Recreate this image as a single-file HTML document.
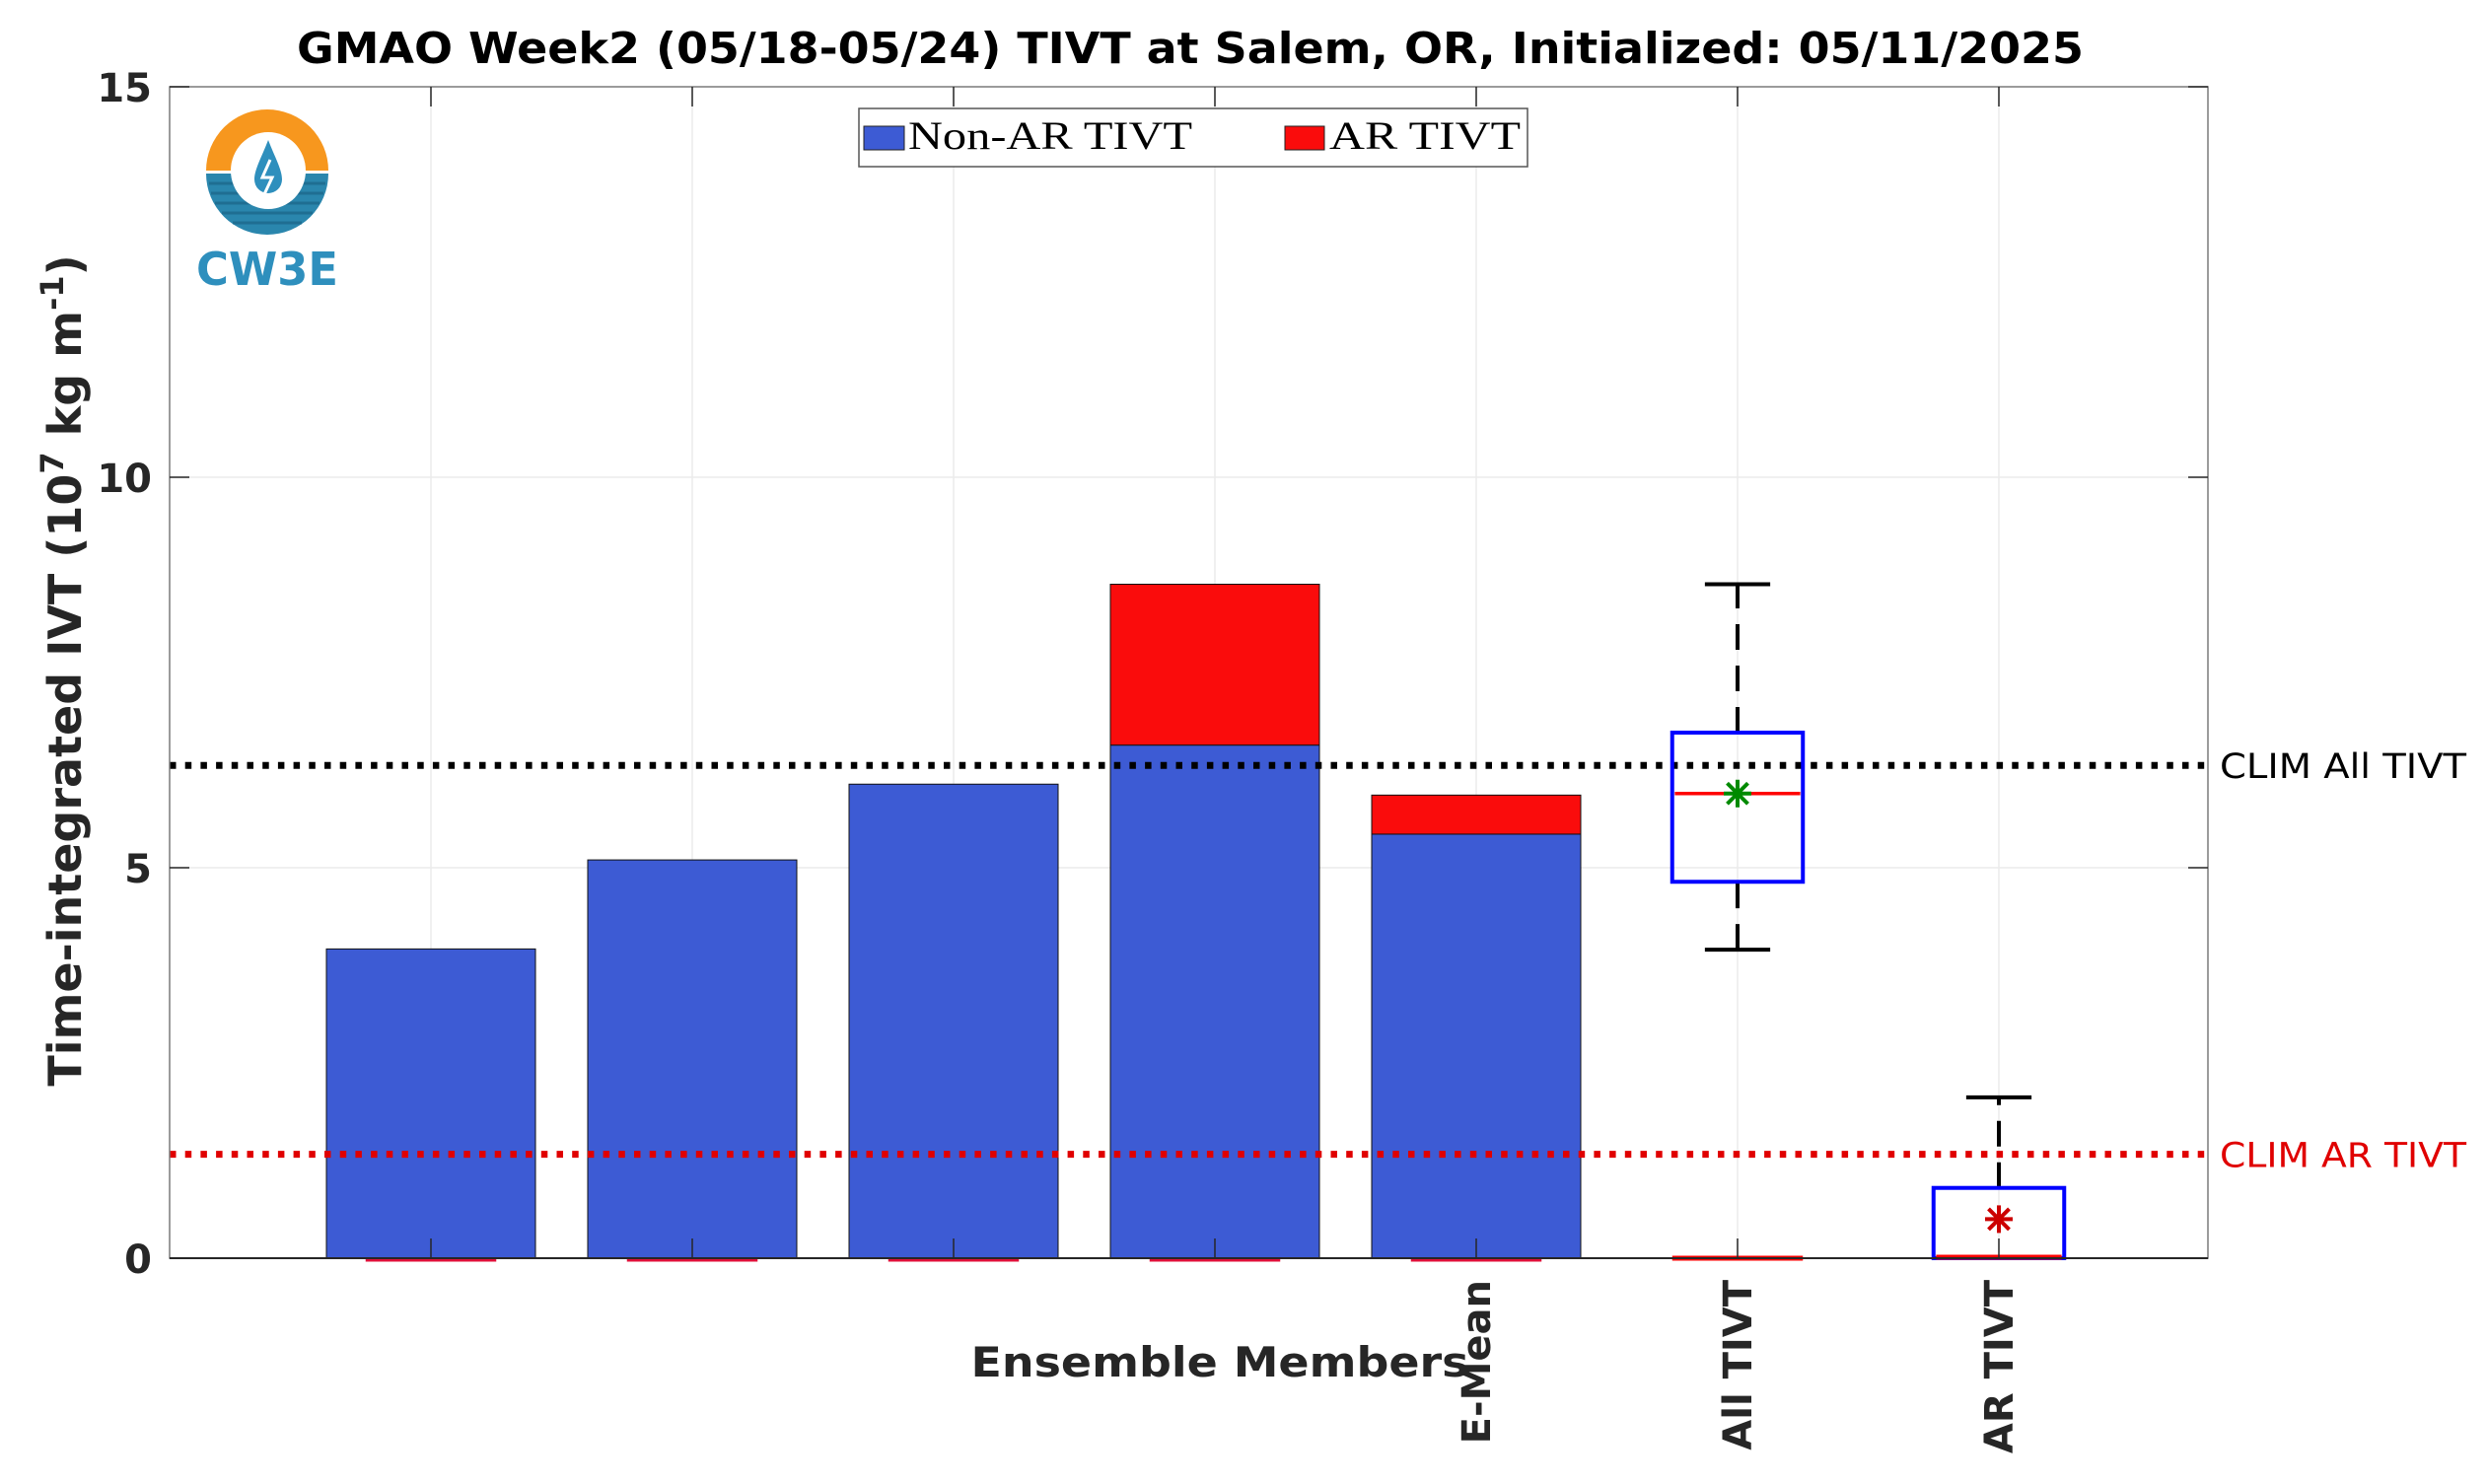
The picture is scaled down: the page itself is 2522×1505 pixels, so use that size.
<!DOCTYPE html>
<html><head><meta charset="utf-8"><style>
html,body{margin:0;padding:0;background:#fff;}
svg{display:block;}
</style></head><body>
<svg id="chart" width="2522" height="1505" viewBox="0 0 2522 1505" xmlns="http://www.w3.org/2000/svg">
<rect x="0" y="0" width="2522" height="1505" fill="#fff"/>
<text x="1207" y="64" text-anchor="middle" font-family="DejaVu Sans, Liberation Sans, sans-serif" font-weight="bold" font-size="44" textLength="1812" lengthAdjust="spacingAndGlyphs" fill="#000">GMAO Week2 (05/18-05/24) TIVT at Salem, OR, Initialized: 05/11/2025</text>
<g id="grid"></g>
<g id="marks"></g>
<g id="axes"></g>
<g>
  <path d="M209,173 A62,62 0 0 1 333,173 Z" fill="#f7971e"/>
  <path d="M209,176 A62,62 0 0 0 333,176 Z" fill="#2a86ad"/>
  <g stroke="#1f6e92" stroke-width="3">
    <line x1="212" y1="186" x2="330" y2="186"/><line x1="214" y1="196" x2="328" y2="196"/>
    <line x1="218" y1="206" x2="324" y2="206"/><line x1="225" y1="216" x2="317" y2="216"/>
    <line x1="236" y1="226" x2="306" y2="226"/>
  </g>
  <ellipse cx="272" cy="173" rx="38" ry="39" fill="#fff"/>
  <path d="M272,142 C265,160 258,172 258,182 A14,14 0 0 0 286,182 C286,172 279,160 272,142 Z" fill="#2e8fbd"/>
  <path d="M274,162 L266,180 L276,180 L268,197" fill="none" stroke="#fff" stroke-width="3"/>
  <text x="271" y="289" text-anchor="middle" font-family="DejaVu Sans, Liberation Sans, sans-serif" font-weight="bold" font-size="46" textLength="144" lengthAdjust="spacingAndGlyphs" fill="#2e8fbd">CW3E</text>
</g>
<g>
  <rect x="871" y="110" width="678" height="59" fill="#fff" stroke="#555" stroke-width="1.5"/>
  <rect x="876" y="128" width="41" height="24" fill="#3d5bd4" stroke="#222" stroke-width="1"/>
  <text x="921" y="151" font-family="Liberation Serif, serif" font-size="40" textLength="288" lengthAdjust="spacingAndGlyphs" fill="#000">Non-AR TIVT</text>
  <rect x="1303" y="128" width="40" height="24" fill="#fa0c0c" stroke="#222" stroke-width="1"/>
  <text x="1348" y="151" font-family="Liberation Serif, serif" font-size="40" textLength="194" lengthAdjust="spacingAndGlyphs" fill="#000">AR TIVT</text>
</g>
<text transform="translate(82,680) rotate(-90)" text-anchor="middle" font-family="DejaVu Sans, Liberation Sans, sans-serif" font-weight="bold" font-size="46" fill="#262626">Time-integrated IVT (10<tspan font-size="32" dy="-18">7</tspan><tspan dy="18"> kg m</tspan><tspan font-size="32" dy="-18">-1</tspan><tspan dy="18">)</tspan></text>
<text x="1237" y="1396" text-anchor="middle" font-family="DejaVu Sans, Liberation Sans, sans-serif" font-weight="bold" font-size="42" textLength="505" lengthAdjust="spacingAndGlyphs" fill="#262626">Ensemble Members</text>
</svg>
<script>
const categories = ['', '', '', '', 'E-Mean', 'All TIVT', 'AR TIVT'];
const nonArValues = [3.96, 5.10, 6.07, 6.57, 5.43];
const arValues = [0, 0, 0, 2.06, 0.50];
const boxAll = [3.95, 4.82, 5.95, 6.73, 8.63];
const boxAllMean = [5.95];
const boxAr = [0, 0, 0, 0.90, 2.06];
const boxArMean = [0.50];
const climAll = [6.31];
const climAr = [1.33];
const yTicks = [0, 5, 10, 15];
const yTickLabels = ['0', '5', '10', '15'];

const NS = 'http://www.w3.org/2000/svg';
const L = 172, R = 2239, T = 88, B = 1276;
const xMax = 7.8, yMax = 15;
function xs(v){ return L + v / xMax * (R - L); }
function ys(v){ return B - v / yMax * (B - T); }
function mk(parent, tag, attrs){ const e = document.createElementNS(NS, tag); for (const k in attrs) e.setAttribute(k, attrs[k]); parent.appendChild(e); return e; }
const grid = document.getElementById('grid');
const marks = document.getElementById('marks');
const axes = document.getElementById('axes');

categories.forEach((c, i) => {
  const g = mk(grid, 'line', {x1: xs(i+1), x2: xs(i+1), y1: T, y2: B, stroke: '#ebebeb', 'stroke-width': 1.5});
  
  
});
yTicks.forEach(v => {
  if (v === 0 || v === yMax) return;
  const g = mk(grid, 'line', {x1: L, x2: R, y1: ys(v), y2: ys(v), stroke: '#ebebeb', 'stroke-width': 1.5});
  
  
});

const bw = 0.8;
nonArValues.forEach((v, i) => {
  const x0 = xs(i + 1 - bw/2), x1 = xs(i + 1 + bw/2);
  const b = mk(marks, 'rect', {x: x0, y: ys(v), width: x1 - x0, height: ys(0) - ys(v), fill: '#3d5bd4', stroke: '#111', 'stroke-width': 1});
  
  
  const a = arValues[i];
  if (a > 0) {
    const r = mk(marks, 'rect', {x: x0, y: ys(v + a), width: x1 - x0, height: ys(v) - ys(v + a), fill: '#fa0c0c', stroke: '#111', 'stroke-width': 1});
    
    
  }
  const z = mk(marks, 'line', {x1: xs(i+1-0.25), x2: xs(i+1+0.25), y1: ys(0)+2, y2: ys(0)+2, stroke: '#e0103a', 'stroke-width': 3});
  
  
});

const c1 = mk(marks, 'line', {x1: L, x2: R, y1: ys(climAll[0]), y2: ys(climAll[0]), stroke: '#000', 'stroke-width': 7, 'stroke-dasharray': '6.5 9.2'});


const c2 = mk(marks, 'line', {x1: L, x2: R, y1: ys(climAr[0]), y2: ys(climAr[0]), stroke: '#e00000', 'stroke-width': 7, 'stroke-dasharray': '6.5 9.2'});


const t1 = mk(marks, 'text', {x: 2251, y: ys(climAll[0]) + 13, 'font-family': 'DejaVu Sans, Liberation Sans, sans-serif', 'font-size': 35, fill: '#000', textLength: 250, lengthAdjust: 'spacingAndGlyphs'});
t1.textContent = 'CLIM All TIVT';


const t2 = mk(marks, 'text', {x: 2251, y: ys(climAr[0]) + 13, 'font-family': 'DejaVu Sans, Liberation Sans, sans-serif', 'font-size': 35, fill: '#e00000', textLength: 250, lengthAdjust: 'spacingAndGlyphs'});
t2.textContent = 'CLIM AR TIVT';



function star(cx, cy, color, name){
  const g = mk(marks, 'g', {stroke: color, 'stroke-width': 4});
  
  
  const s = 14;
  mk(g, 'line', {x1: cx, x2: cx, y1: cy - s, y2: cy + s});
  mk(g, 'line', {x1: cx - s, x2: cx + s, y1: cy, y2: cy});
  mk(g, 'line', {x1: cx - s*0.75, x2: cx + s*0.75, y1: cy - s*0.75, y2: cy + s*0.75});
  mk(g, 'line', {x1: cx - s*0.75, x2: cx + s*0.75, y1: cy + s*0.75, y2: cy - s*0.75});
}
function boxplot(pos, q, mean, starColor, name){
  const g = mk(marks, 'g', {});
  
  
  const cx = xs(pos);
  if (q[3] < q[4]) mk(g, 'line', {x1: cx, x2: cx, y1: ys(q[3]), y2: ys(q[4]), stroke: '#000', 'stroke-width': 4, 'stroke-dasharray': '26 16'});
  if (q[0] < q[1]) mk(g, 'line', {x1: cx, x2: cx, y1: ys(q[0]), y2: ys(q[1]), stroke: '#000', 'stroke-width': 4, 'stroke-dasharray': '26 16'});
  mk(g, 'line', {x1: xs(pos-0.125), x2: xs(pos+0.125), y1: ys(q[4]), y2: ys(q[4]), stroke: '#000', 'stroke-width': 4});
  mk(g, 'line', {x1: xs(pos-0.125), x2: xs(pos+0.125), y1: ys(q[0]), y2: ys(q[0]), stroke: '#000', 'stroke-width': 4});
  mk(g, 'rect', {x: xs(pos-0.25), y: ys(q[3]), width: xs(pos+0.25)-xs(pos-0.25), height: Math.max(ys(q[1]) - ys(q[3]), 1), fill: 'none', stroke: '#0000ff', 'stroke-width': 4});
  mk(g, 'line', {x1: xs(pos-0.24), x2: xs(pos+0.24), y1: ys(q[2]) - (q[2] === 0 ? 1 : 0), y2: ys(q[2]) - (q[2] === 0 ? 1 : 0), stroke: '#ff0000', 'stroke-width': q[2] === 0 ? 5 : 3.5});
  star(cx, ys(mean), starColor, name + '-mean');
}
boxplot(6, boxAll, boxAllMean[0], '#008a00', 'boxplot-all-tivt');
boxplot(7, boxAr, boxArMean[0], '#cc0000', 'boxplot-ar-tivt');
const zr = mk(marks, 'line', {x1: xs(6-0.25), x2: xs(6+0.25), y1: ys(0), y2: ys(0), stroke: '#ff0000', 'stroke-width': 5});



mk(axes, 'rect', {x: L, y: T, width: R - L, height: B - T, fill: 'none', stroke: '#7a7a7a', 'stroke-width': 1.5});
const xl = mk(axes, 'line', {x1: L, x2: R, y1: B, y2: B, stroke: '#262626', 'stroke-width': 2});


yTicks.forEach((v, i) => {
  mk(axes, 'line', {x1: L, x2: L + 20, y1: ys(v), y2: ys(v), stroke: '#262626', 'stroke-width': 1.5});
  mk(axes, 'line', {x1: R, x2: R - 20, y1: ys(v), y2: ys(v), stroke: '#262626', 'stroke-width': 1.5});
  const t = mk(axes, 'text', {x: L - 18, y: ys(v) + 15, 'text-anchor': 'end', 'font-family': 'DejaVu Sans, Liberation Sans, sans-serif', 'font-weight': 'bold', 'font-size': 40, fill: '#262626'});
  t.textContent = yTickLabels[i];
  
  
});
categories.forEach((c, i) => {
  const x = xs(i + 1);
  mk(axes, 'line', {x1: x, x2: x, y1: B, y2: B - 20, stroke: '#262626', 'stroke-width': 1.5});
  mk(axes, 'line', {x1: x, x2: x, y1: T, y2: T + 20, stroke: '#262626', 'stroke-width': 1.5});
  if (c) {
    const t = mk(axes, 'text', {transform: 'translate(' + (x + 14) + ',' + (B + 22) + ') rotate(-90)', 'text-anchor': 'end', 'font-family': 'DejaVu Sans, Liberation Sans, sans-serif', 'font-weight': 'bold', 'font-size': 40, fill: '#262626'});
    t.textContent = c;
    
    
  }
});
</script>
</body></html>
